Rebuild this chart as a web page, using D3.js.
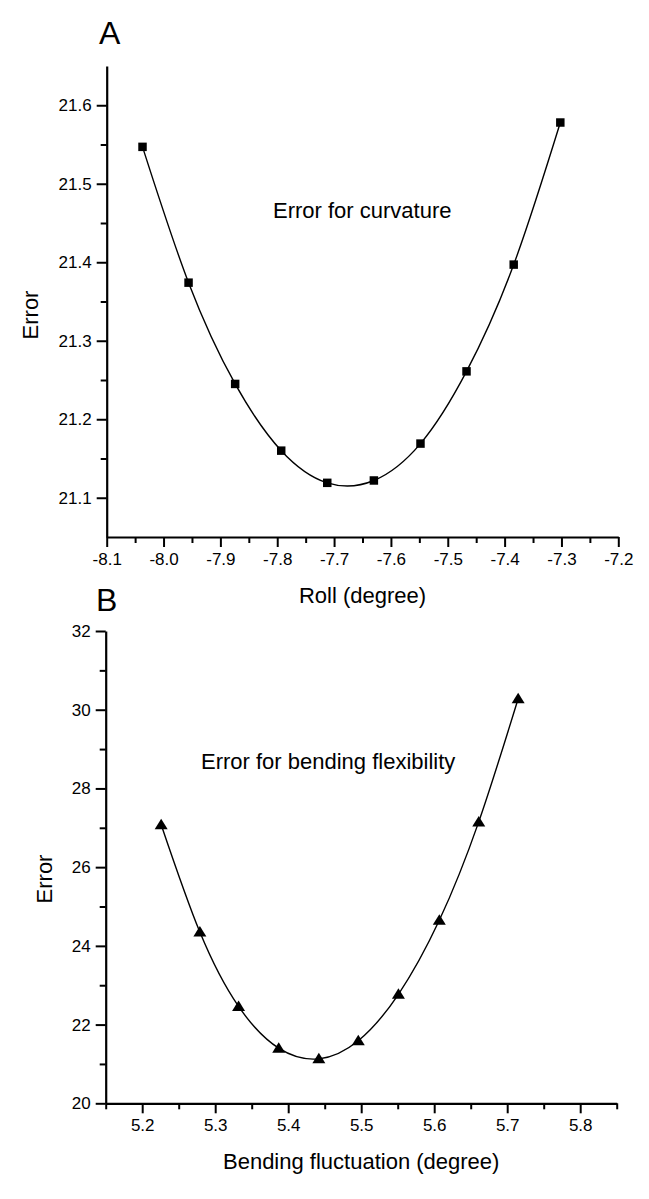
<!DOCTYPE html>
<html>
<head>
<meta charset="utf-8">
<script src="https://cdn.jsdelivr.net/npm/d3@7/dist/d3.min.js"></script>
<style>
  html, body { margin: 0; padding: 0; background: #fff; }
  svg { display: block; font-family: "Liberation Sans", Arial, Helvetica, sans-serif; }
</style>
</head>
<body>
<svg id="chart" width="649" height="1199"></svg>
<script>
// ---- Panel A data ----
const rollX = [-8.037, -7.956, -7.874, -7.793, -7.712, -7.630, -7.548, -7.467, -7.384, -7.302];
const curvErr = [21.547, 21.374, 21.245, 21.160, 21.119, 21.122, 21.169, 21.261, 21.397, 21.578];
const aXTicks = [-8.1, -8.0, -7.9, -7.8, -7.7, -7.6, -7.5, -7.4, -7.3, -7.2];
const aXMinor = [-8.05, -7.95, -7.85, -7.75, -7.65, -7.55, -7.45, -7.35, -7.25];
const aYTicks = [21.1, 21.2, 21.3, 21.4, 21.5, 21.6];
const aYMinor = [21.15, 21.25, 21.35, 21.45, 21.55];

// ---- Panel B data ----
const bendX = [5.226, 5.279, 5.332, 5.387, 5.442, 5.496, 5.551, 5.607, 5.661, 5.715];
const bendErr = [27.08, 24.35, 22.46, 21.40, 21.13, 21.59, 22.77, 24.65, 27.15, 30.28];
const bXTicks = [5.2, 5.3, 5.4, 5.5, 5.6, 5.7, 5.8];
const bXMinor = [5.15, 5.25, 5.35, 5.45, 5.55, 5.65, 5.75, 5.85];
const bYTicks = [20, 22, 24, 26, 28, 30, 32];
const bYMinor = [21, 23, 25, 27, 29, 31];

const svg = d3.select("#chart");
const fmt1 = v => d3.format(".1f")(v).replace("\u2212", "-");
const fmt0 = v => d3.format("d")(v).replace("\u2212", "-");

function panel(cfg) {
  const x = d3.scaleLinear().domain(cfg.xDomain).range([cfg.left, cfg.right]);
  const y = d3.scaleLinear().domain(cfg.yDomain).range([cfg.bottom, cfg.top]);
  const g = svg.append("g");

  // minor ticks
  g.append("g").attr("transform", `translate(0,${cfg.bottom})`)
    .call(d3.axisBottom(x).tickValues(cfg.xMinor).tickSize(6).tickFormat(""))
    .call(s => s.select(".domain").remove())
    .call(s => s.selectAll("line").attr("stroke", "#000").attr("stroke-width", 2));
  g.append("g").attr("transform", `translate(${cfg.left},0)`)
    .call(d3.axisLeft(y).tickValues(cfg.yMinor).tickSize(6).tickFormat(""))
    .call(s => s.select(".domain").remove())
    .call(s => s.selectAll("line").attr("stroke", "#000").attr("stroke-width", 2));

  // major axes
  const xa = g.append("g").attr("transform", `translate(0,${cfg.bottom})`)
    .call(d3.axisBottom(x).tickValues(cfg.xTicks).tickSize(10).tickSizeOuter(0).tickPadding(6)
      .tickFormat(cfg.xFmt));
  const ya = g.append("g").attr("transform", `translate(${cfg.left},0)`)
    .call(d3.axisLeft(y).tickValues(cfg.yTicks).tickSize(10).tickSizeOuter(0).tickPadding(5)
      .tickFormat(cfg.yFmt));
  [xa, ya].forEach(a => {
    a.select(".domain").attr("stroke", "#000").attr("stroke-width", 2.2);
    a.selectAll(".tick line").attr("stroke", "#000").attr("stroke-width", 2);
    a.selectAll(".tick text").attr("fill", "#000").style("font-size", "17px")
      .style("font-family", '"Liberation Sans", Arial, sans-serif');
  });

  // curve
  const pts = cfg.xs.map((v, i) => [v, cfg.ys[i]]);
  g.append("path")
    .datum(pts)
    .attr("fill", "none").attr("stroke", "#000").attr("stroke-width", 1.4)
    .attr("d", d3.line().x(d => x(d[0])).y(d => y(d[1])).curve(d3.curveNatural));

  // markers
  g.selectAll("path.mk").data(pts).enter().append("path")
    .attr("class", "mk")
    .attr("transform", d => `translate(${x(d[0])},${y(d[1])})`)
    .attr("d", cfg.marker)
    .attr("fill", "#000");

  // texts
  g.append("text").attr("x", cfg.letterX).attr("y", cfg.letterY)
    .style("font-size", "32px").text(cfg.letter);
  g.append("text").attr("x", (cfg.left + cfg.right) / 2).attr("y", cfg.xTitleY)
    .attr("text-anchor", "middle").style("font-size", "22px").text(cfg.xTitle);
  g.append("text").attr("transform", `translate(${cfg.yTitleX},${cfg.yTitleY}) rotate(-90)`)
    .attr("text-anchor", "middle").style("font-size", "22px").text("Error");
  g.append("text").attr("x", cfg.noteX).attr("y", cfg.noteY)
    .style("font-size", "22px").text(cfg.note);
}

const squareSym = d3.symbol().type(d3.symbolSquare).size(72)();
const triSym = "M0,-6 L6.5,4.5 L-6.5,4.5 Z";

panel({
  xDomain: [-8.1, -7.2], yDomain: [21.05, 21.65],
  left: 106.7, right: 618.3, top: 66, bottom: 537,
  xs: rollX, ys: curvErr,
  xTicks: aXTicks, xMinor: aXMinor, yTicks: aYTicks, yMinor: aYMinor,
  xFmt: fmt1, yFmt: fmt1,
  marker: squareSym,
  letter: "A", letterX: 99, letterY: 44,
  xTitle: "Roll (degree)", xTitleY: 603,
  yTitleX: 38, yTitleY: 315,
  note: "Error for curvature", noteX: 273, noteY: 218
});

panel({
  xDomain: [5.15, 5.85], yDomain: [20, 32],
  left: 105.7, right: 616.7, top: 631, bottom: 1103.3,
  xs: bendX, ys: bendErr,
  xTicks: bXTicks, xMinor: bXMinor, yTicks: bYTicks, yMinor: bYMinor,
  xFmt: fmt1, yFmt: fmt0,
  marker: triSym,
  letter: "B", letterX: 96, letterY: 611,
  xTitle: "Bending fluctuation (degree)", xTitleY: 1169,
  yTitleX: 52, yTitleY: 879,
  note: "Error for bending flexibility", noteX: 201, noteY: 769
});
</script>
</body>
</html>
